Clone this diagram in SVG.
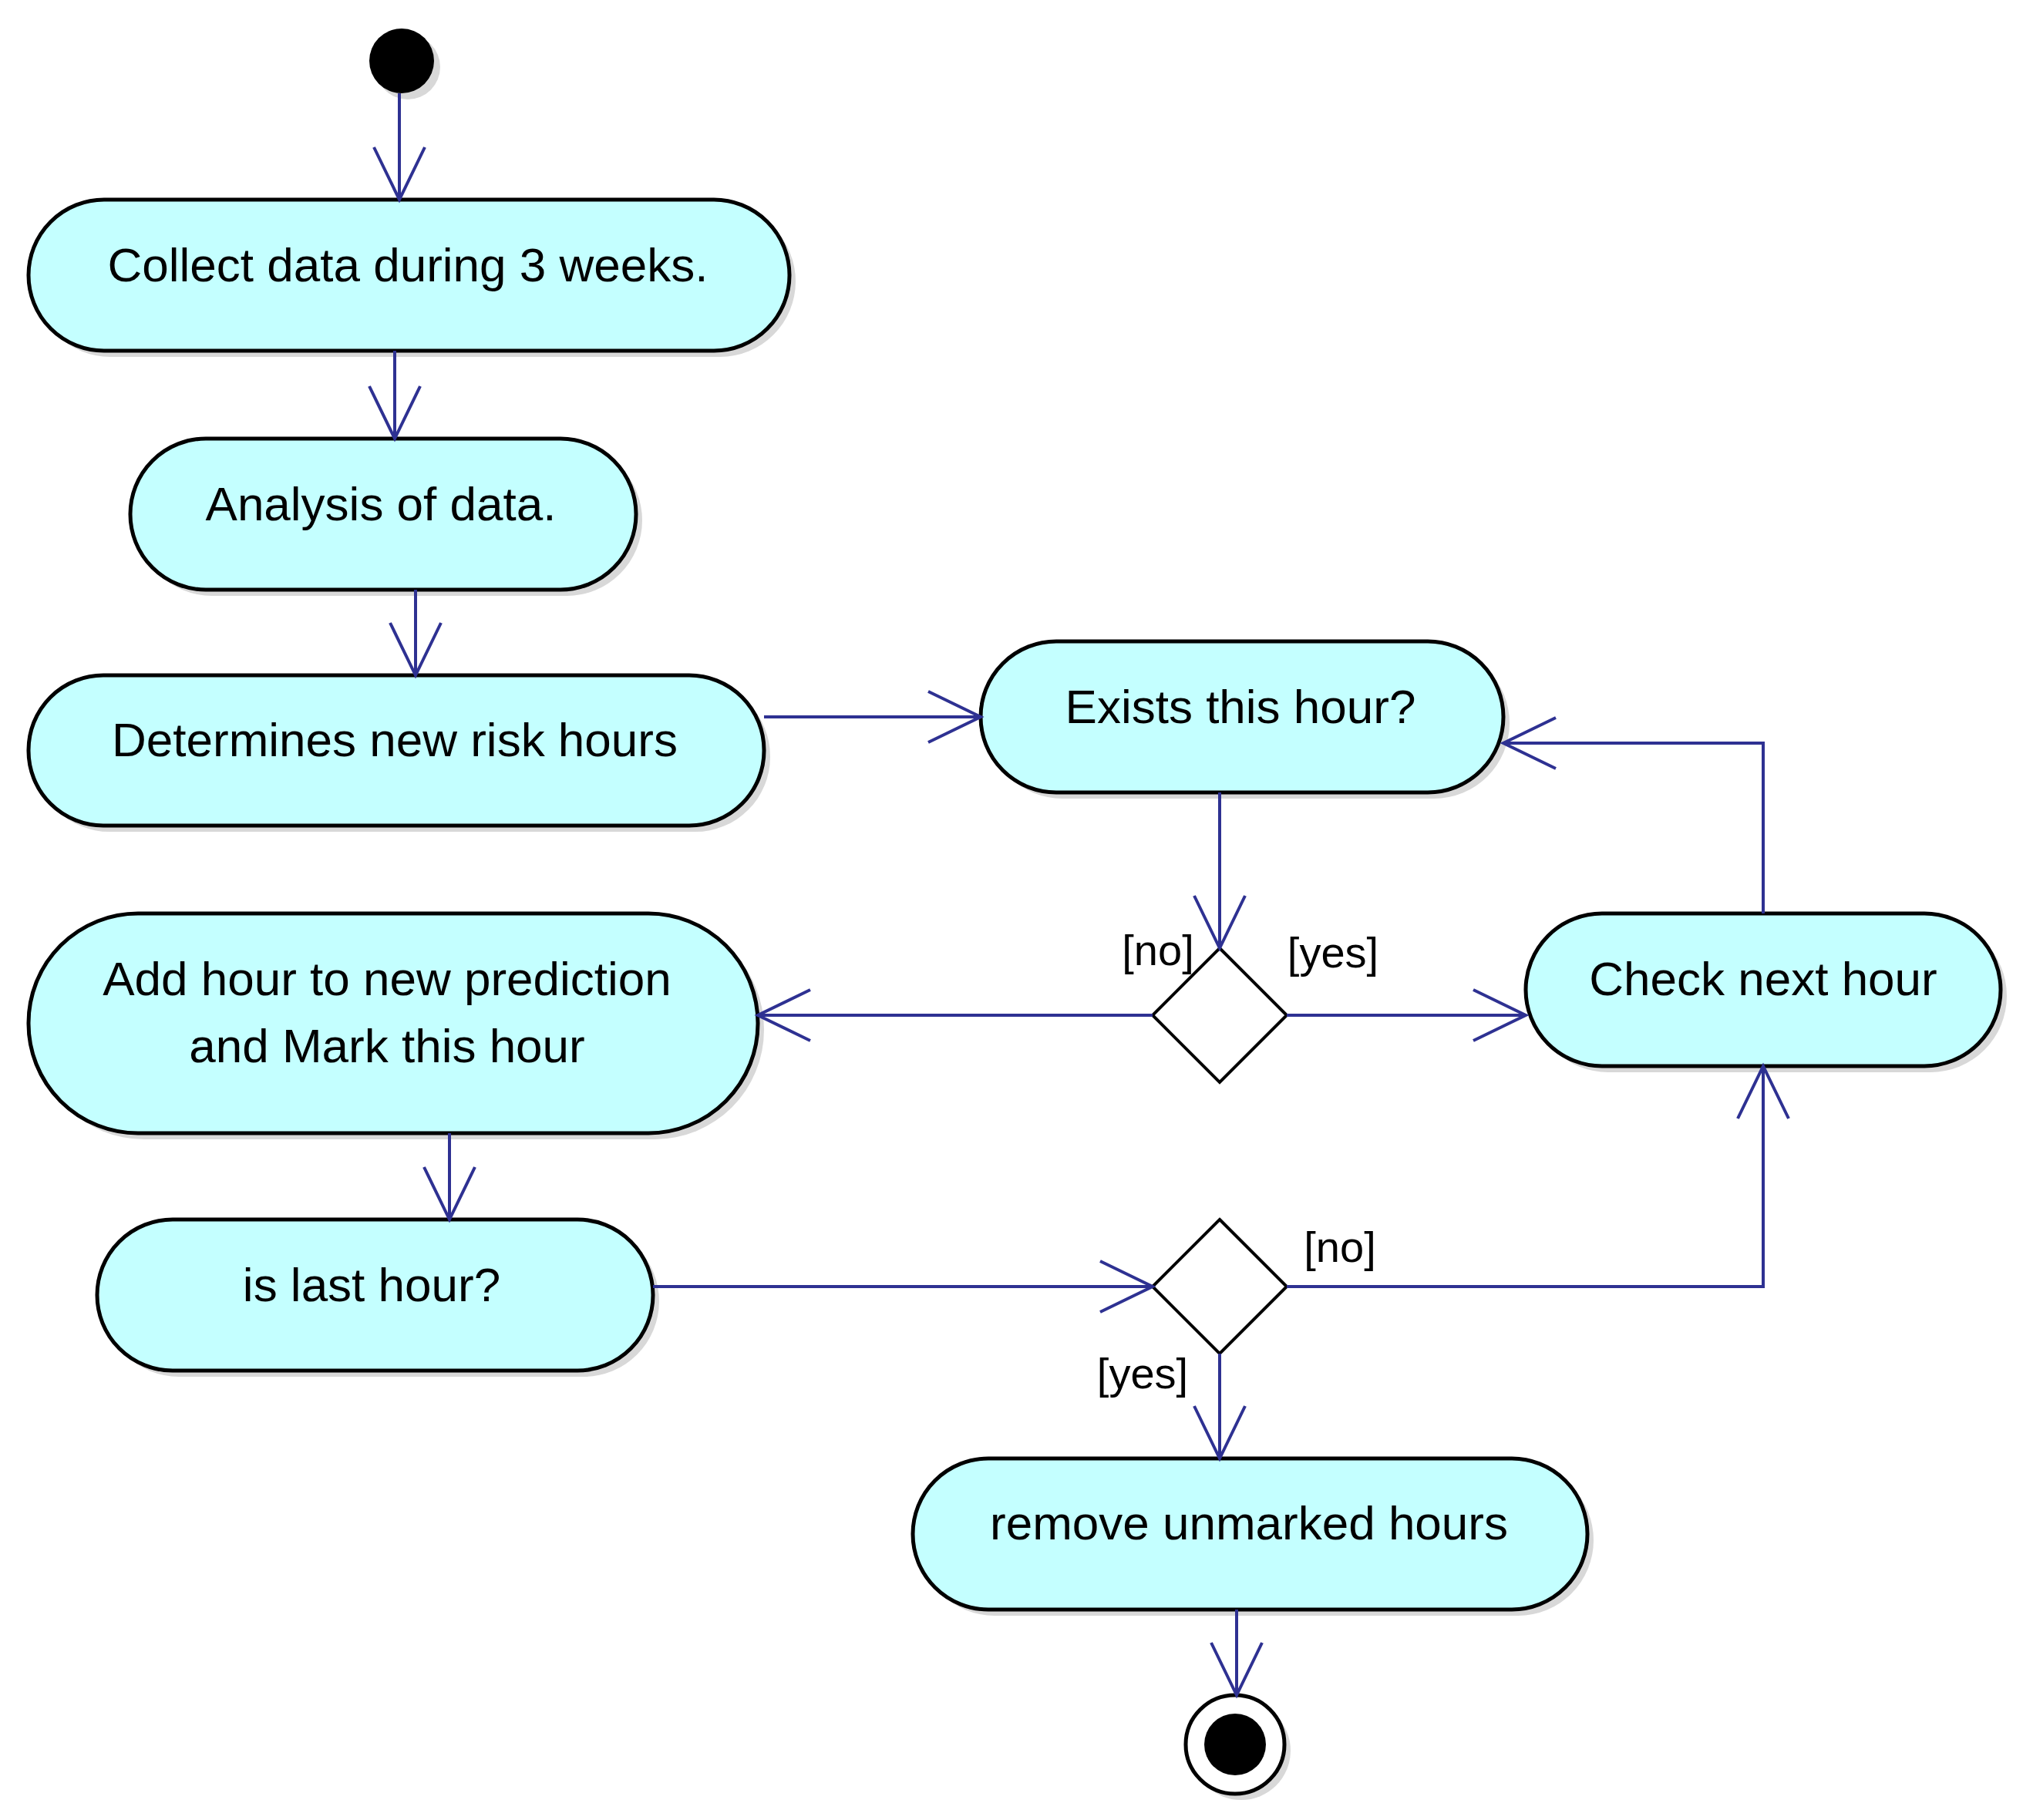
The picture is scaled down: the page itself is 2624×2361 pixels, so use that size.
<svg xmlns="http://www.w3.org/2000/svg" width="2624" height="2361" viewBox="0 0 2624 2361">
<style>
.n{fill:#c4ffff;stroke:#000;stroke-width:5}
.s{fill:#d8d8d8}
.t{font-family:"Liberation Sans",Arial,sans-serif;font-size:62px;fill:#000;text-anchor:middle}
.l{font-family:"Liberation Sans",Arial,sans-serif;font-size:56px;fill:#000;text-anchor:middle}
.e{fill:none;stroke:#2e3192;stroke-width:4;marker-end:url(#a)}
</style>
<defs>
<marker id="a" markerUnits="userSpaceOnUse" markerWidth="80" markerHeight="80" refX="70" refY="35" orient="auto" viewBox="0 0 80 70">
<path d="M2,2 L70,35 L2,68" fill="none" stroke="#2e3192" stroke-width="4"/>
</marker>
</defs>
<rect width="2624" height="2361" fill="#fff"/>
<g id="start"><circle cx="529" cy="87" r="42" class="s"/><circle cx="521" cy="79" r="42" fill="#000"/></g>
<g id="collect"><rect x="45" y="267" width="987" height="196" rx="98" class="s"/><rect x="37" y="259" width="987" height="196" rx="98" class="n"/><text x="529" y="365" class="t">Collect data during 3 weeks.</text></g>
<g id="analysis"><rect x="177" y="577" width="656" height="196" rx="98" class="s"/><rect x="169" y="569" width="656" height="196" rx="98" class="n"/><text x="494" y="675" class="t">Analysis of data.</text></g>
<g id="determine"><rect x="45" y="884" width="954" height="195" rx="97" class="s"/><rect x="37" y="876" width="954" height="195" rx="97" class="n"/><text x="512" y="981" class="t">Determines new risk hours</text></g>
<g id="exists"><rect x="1280" y="840" width="678" height="196" rx="98" class="s"/><rect x="1272" y="832" width="678" height="196" rx="98" class="n"/><text x="1609" y="938" class="t">Exists this hour?</text></g>
<g id="add"><rect x="45" y="1193" width="946" height="285" rx="142" class="s"/><rect x="37" y="1185" width="946" height="285" rx="142" class="n"/><text x="502" y="1291" class="t">Add hour to new prediction</text><text x="502" y="1378" class="t">and Mark this hour</text></g>
<g id="check"><rect x="1987" y="1193" width="616" height="198" rx="99" class="s"/><rect x="1979" y="1185" width="616" height="198" rx="99" class="n"/><text x="2287" y="1291" class="t">Check next hour</text></g>
<g id="islast"><rect x="134" y="1590" width="721" height="196" rx="98" class="s"/><rect x="126" y="1582" width="721" height="196" rx="98" class="n"/><text x="482" y="1688" class="t">is last hour?</text></g>
<g id="remove"><rect x="1192" y="1900" width="875" height="196" rx="98" class="s"/><rect x="1184" y="1892" width="875" height="196" rx="98" class="n"/><text x="1620" y="1997" class="t">remove unmarked hours</text></g>
<g id="d1"><path d="M1582,1230 L1669,1317 L1582,1404 L1495,1317 Z" fill="#fff" stroke="#000" stroke-width="4"/></g>
<g id="d2"><path d="M1582,1582 L1669,1669 L1582,1756 L1495,1669 Z" fill="#fff" stroke="#000" stroke-width="4"/></g>
<g id="end"><circle cx="1610" cy="2271" r="64" class="s"/><circle cx="1602" cy="2263" r="64" fill="#fff" stroke="#000" stroke-width="5"/><circle cx="1602" cy="2263" r="40" fill="#000"/></g>
<g id="connectors">
<path class="e" d="M518,121 L518,259"/>
<path class="e" d="M512,455 L512,569"/>
<path class="e" d="M539,765 L539,876"/>
<path class="e" d="M991,930 L1272,930"/>
<path class="e" d="M1582,1028 L1582,1230"/>
<path class="e" d="M1495,1317 L983,1317"/>
<path class="e" d="M1669,1317 L1979,1317"/>
<path class="e" d="M2287,1185 L2287,964 L1950,964"/>
<path class="e" d="M583,1470 L583,1582"/>
<path class="e" d="M847,1669 L1495,1669"/>
<path class="e" d="M1669,1669 L2287,1669 L2287,1383"/>
<path class="e" d="M1582,1756 L1582,1892"/>
<path class="e" d="M1604,2088 L1604,2199"/>
</g>
<g id="labels">
<text x="1502" y="1252" class="l">[no]</text>
<text x="1729" y="1255" class="l">[yes]</text>
<text x="1738" y="1637" class="l">[no]</text>
<text x="1482" y="1801" class="l">[yes]</text>
</g>
</svg>
